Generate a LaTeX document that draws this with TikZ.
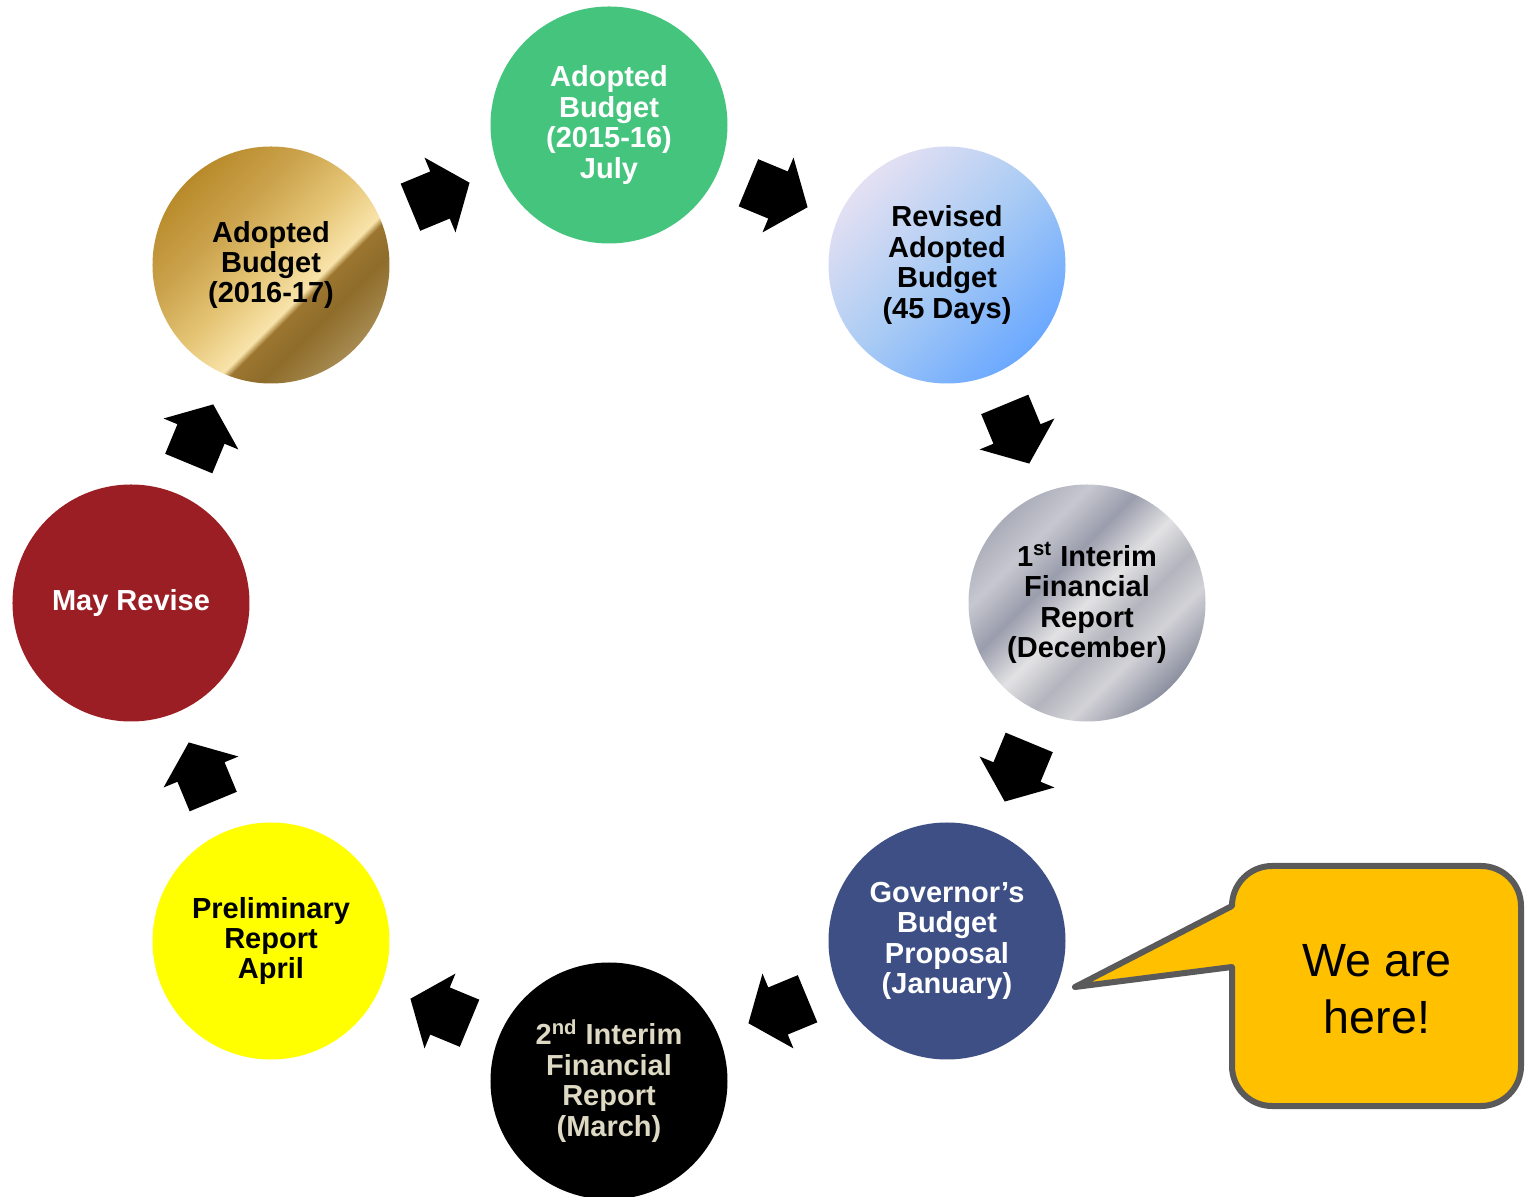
\documentclass[tikz,border=0pt]{standalone}
\usepackage{fontspec}
\setmainfont{Liberation Sans}
\usetikzlibrary{calc}
\definecolor{cgreen}{HTML}{45C47E}
\definecolor{cnavy}{HTML}{3D4F85}
\definecolor{cred}{HTML}{9B1E24}
\definecolor{cyellow}{HTML}{FFFF00}
\definecolor{ctan}{HTML}{DDD9C3}
\definecolor{cgoldbox}{HTML}{FFC000}
\definecolor{cborder}{HTML}{5A5A5A}
% gold
\definecolor{gA}{HTML}{B88A2A}
\definecolor{gB}{HTML}{CCA44E}
\definecolor{gC}{HTML}{E4C474}
\definecolor{gD}{HTML}{F9E3AA}
\definecolor{gE}{HTML}{9C7630}
\definecolor{gF}{HTML}{8E6C2A}
\definecolor{gG}{HTML}{A68A50}
\pgfdeclarehorizontalshading{goldshade}{100bp}{color(0bp)=(gA); color(25bp)=(gA); color(38bp)=(gB); color(49bp)=(gC); color(59bp)=(gD); color(60.5bp)=(gE); color(66bp)=(gF); color(75bp)=(gG); color(100bp)=(gG)}
% silver
\definecolor{sA}{HTML}{ABADB9}
\definecolor{sB}{HTML}{C6C7CF}
\definecolor{sC}{HTML}{9A9DAC}
\definecolor{sD}{HTML}{E2E2E4}
\definecolor{sE}{HTML}{B3B4BD}
\definecolor{sF}{HTML}{D2D2D7}
\definecolor{sG}{HTML}{8C8F9F}
\pgfdeclarehorizontalshading{silvershade}{100bp}{color(0bp)=(sA); color(25bp)=(sA); color(33bp)=(sB); color(41bp)=(sC); color(50bp)=(sD); color(58bp)=(sE); color(65bp)=(sF); color(75bp)=(sG); color(100bp)=(sG)}
% blue
\definecolor{bA}{HTML}{E4E0F3}
\definecolor{bB}{HTML}{A9CBF4}
\definecolor{bC}{HTML}{6AA8FF}
\pgfdeclarehorizontalshading{blueshade}{100bp}{color(0bp)=(bA); color(25bp)=(bA); color(50bp)=(bB); color(75bp)=(bC); color(100bp)=(bC)}
\begin{document}
\begin{tikzpicture}[x=0.5pt,y=0.5pt,
  bubble/.style={circle, minimum size=118.5pt, inner sep=0pt, align=center,
    font=\bfseries\fontsize{14.5}{15.2}\selectfont},
  blockarrow/.style={fill=black},
  callout/.style={draw=cborder, line width=3pt, fill=cgoldbox, line join=round},
  calltext/.style={align=center, font=\fontsize{23.3}{28.5}\selectfont, text=black}]
\useasboundingbox (-609,-594) rectangle (916,603);

\node[bubble, fill=cgreen, text=white] (c1) at (90:478) {Adopted\\Budget\\(2015-16)\\July};
\node[bubble, shade, shading=blueshade, shading angle=-45, text=black] (c2) at (45:478) {Revised\\Adopted\\Budget\\(45 Days)};
\node[bubble, shade, shading=silvershade, shading angle=-45, text=black] (c3) at (0:478) {1\textsuperscript{st} Interim\\Financial\\Report\\(December)};
\node[bubble, fill=cnavy, text=white] (c4) at (-45:478) {Governor’s\\Budget\\Proposal\\(January)};
\node[bubble, fill=black, text=ctan] (c5) at (-90:478) {2\textsuperscript{nd} Interim\\Financial\\Report\\(March)};
\node[bubble, fill=cyellow, text=black] (c6) at (-135:478) {Preliminary\\Report\\April};
\node[bubble, fill=cred, text=white] (c7) at (180:478) {May Revise};
\node[bubble, shade, shading=goldshade, shading angle=-45, text=black] (c8) at (135:478) {Adopted\\Budget\\(2016-17)};

\foreach \a/\b/\ang in {c8/c1/22.5, c1/c2/-22.5, c2/c3/-67.5, c3/c4/-112.5, c4/c5/-157.5, c5/c6/157.5, c6/c7/112.5, c7/c8/67.5}
  \fill[blockarrow, shift={($(\a)!0.5!(\b)$)}, rotate=\ang]
    (-32,-25.5) -- (0,-25.5) -- (0,-40.5) -- (32,0) -- (0,40.5) -- (0,25.5) -- (-32,25.5) -- cycle;

\draw[callout] (623,-364) -- (623,-463) arc[start angle=180, end angle=270, radius=40]
  -- (872,-503) arc[start angle=270, end angle=360, radius=40]
  -- (912,-303) arc[start angle=0, end angle=90, radius=40]
  -- (663,-263) arc[start angle=90, end angle=180, radius=40]
  -- (466,-384) -- cycle;
\node[calltext] (here) at (768,-386) {We are\\here!};
\end{tikzpicture}
\end{document}
